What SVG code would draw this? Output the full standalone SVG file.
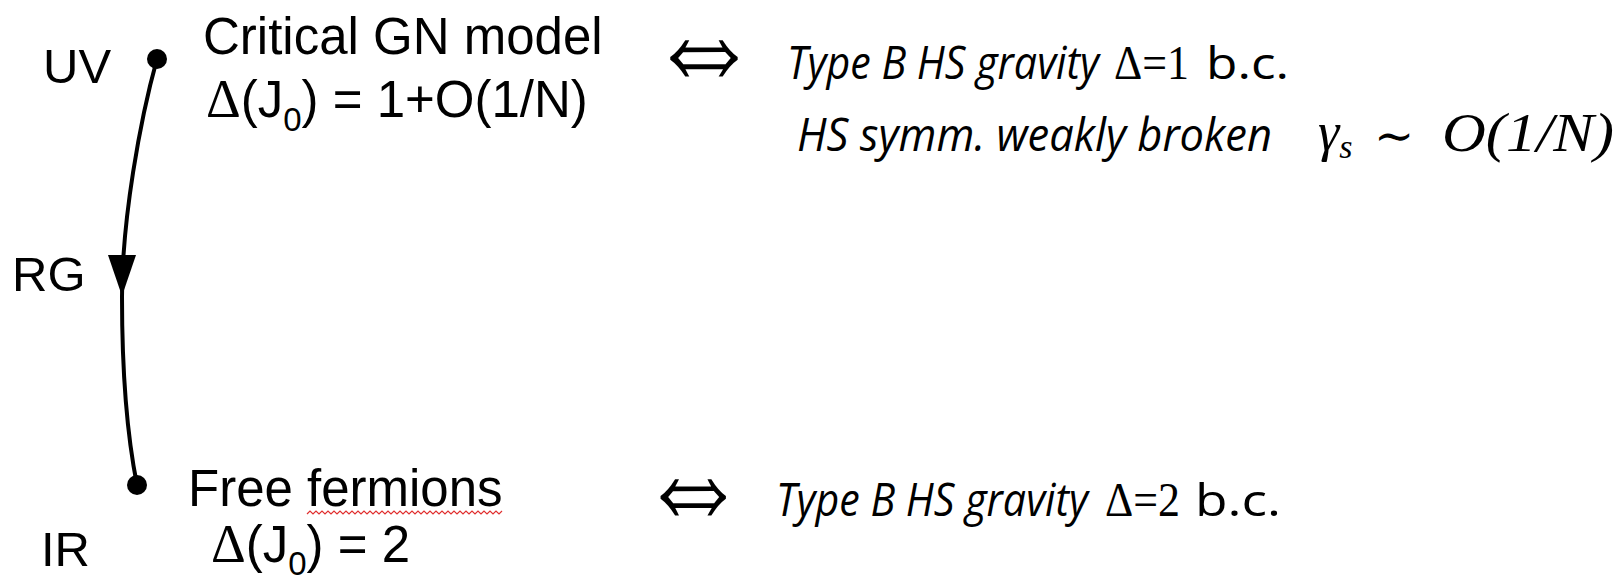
<svg xmlns="http://www.w3.org/2000/svg" width="1618" height="580" viewBox="0 0 1618 580">
<style>
.lbl{font-family:"Liberation Sans",Arial,sans-serif;font-size:49px;fill:#000}
.main{font-family:"Liberation Sans",Arial,sans-serif;font-size:51px;fill:#000}
.sub{font-size:33px}
.dl{font-family:"Liberation Serif","Times New Roman",serif;font-size:54px}
.cal{font-family:"Open Sans","Noto Sans",sans-serif;font-style:italic;font-size:45px;fill:#000}
.calu{font-family:"Open Sans","Noto Sans",sans-serif;font-size:44px;fill:#000}
.ser{font-family:"Liberation Serif","Times New Roman",serif;font-size:48px;fill:#000}
.math{font-family:"Liberation Serif","Times New Roman",serif;font-style:italic;font-size:54px;fill:#000}
.mathu{font-family:"Liberation Serif","Times New Roman",serif;font-size:54px;fill:#000}
.tilde{font-family:"DejaVu Serif","DejaVu Sans",serif;font-size:48px;fill:#000}
.arr{font-family:"DejaVu Sans ExtraLight","DejaVu Sans",sans-serif;font-weight:200;font-size:120px;fill:#000}
.dot{fill:#000}
.edge{fill:none;stroke:#000;stroke-width:4}
</style>
<g id="connectors">
<path class="edge" d="M157,59 C140,120 122,220 122,297 C122,380 128,440 137,485"/>
<polygon points="108,255 136,255 122,296" fill="#000"/>
<text class="lbl" x="12" y="291">RG</text>
</g>
<g id="node-uv">
<circle class="dot" cx="157" cy="59" r="10"/>
<text class="lbl" x="43" y="83">UV</text>
<text class="main" x="203" y="54">Critical GN model</text>
<text class="main" x="206" y="117"><tspan class="dl">Δ</tspan>(J<tspan class="sub" dy="14">0</tspan><tspan dy="-14">) = 1+O(1/N)</tspan></text>
</g>
<g id="node-ir">
<circle class="dot" cx="137" cy="485" r="10"/>
<text class="lbl" x="41" y="566">IR</text>
<text class="main" x="188" y="506">Free fermions</text>
<polyline points="307,514 310,511 313,514 316,511 319,514 322,511 325,514 328,511 331,514 334,511 337,514 340,511 343,514 346,511 349,514 352,511 355,514 358,511 361,514 364,511 367,514 370,511 373,514 376,511 379,514 382,511 385,514 388,511 391,514 394,511 397,514 400,511 403,514 406,511 409,514 412,511 415,514 418,511 421,514 424,511 427,514 430,511 433,514 436,511 439,514 442,511 445,514 448,511 451,514 454,511 457,514 460,511 463,514 466,511 469,514 472,511 475,514 478,511 481,514 484,511 487,514 490,511 493,514 496,511 499,514 502,511" fill="none" stroke="#e03030" stroke-width="1.2"/>
<text class="main" x="211" y="562"><tspan class="dl">Δ</tspan>(J<tspan class="sub" dy="13">0</tspan><tspan dy="-13">) = 2</tspan></text>
</g>
<g id="node-typeB1">
<text class="arr" transform="translate(647,95) scale(0.95,1.3)" x="0" y="0">⇔</text>
<text class="cal" x="787" y="79" textLength="312" lengthAdjust="spacingAndGlyphs">Type B HS gravity</text>
<text class="ser" x="1114" y="79" textLength="75" lengthAdjust="spacingAndGlyphs">Δ=1</text>
<text class="calu" x="1206" y="79" textLength="83" lengthAdjust="spacingAndGlyphs">b.c.</text>
</g>
<g id="node-hs">
<text class="cal" x="797" y="151" textLength="475" lengthAdjust="spacingAndGlyphs">HS symm. weakly broken</text>
<text class="math" x="1318" y="150">γ<tspan font-size="34" dy="8">s</tspan></text>
<text class="tilde" x="1374" y="152">∼</text>
<text class="math" x="1442" y="151" textLength="172" lengthAdjust="spacingAndGlyphs">O<tspan class="mathu">(1/</tspan>N<tspan class="mathu">)</tspan></text>
</g>
<g id="node-typeB2">
<text class="arr" transform="translate(638,534) scale(0.92,1.3)" x="0" y="0">⇔</text>
<text class="cal" x="776" y="516" textLength="312" lengthAdjust="spacingAndGlyphs">Type B HS gravity</text>
<text class="ser" x="1105" y="516" textLength="75" lengthAdjust="spacingAndGlyphs">Δ=2</text>
<text class="calu" x="1195" y="516" textLength="86" lengthAdjust="spacingAndGlyphs">b.c.</text>
</g>
</svg>
